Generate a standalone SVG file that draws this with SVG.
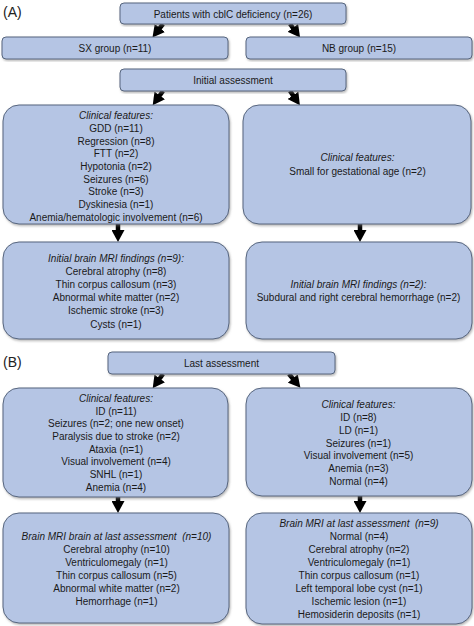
<svg xmlns="http://www.w3.org/2000/svg" width="474" height="626" viewBox="0 0 474 626">
<defs>
<filter id="sh" x="-5%" y="-5%" width="110%" height="115%">
<feDropShadow dx="1" dy="1.5" stdDeviation="0.8" flood-color="#7a7a7a" flood-opacity="0.55"/>
</filter>
<marker id="ah" markerUnits="userSpaceOnUse" markerWidth="12" markerHeight="13" viewBox="0 0 12 13" refX="4" refY="6.5" orient="auto">
<path d="M0,0 L12,6.5 L0,13 z" fill="#000"/>
</marker>
<style>
.b{fill:#b5c5e4;stroke:#56657e;stroke-width:1;filter:url(#sh)}
text{font-family:"Liberation Sans",Arial,sans-serif;font-size:10px;fill:#1a1a1a;text-anchor:middle}
.i{font-style:italic}
.lab{font-size:14px;text-anchor:start;fill:#222}
.c{stroke:#000;stroke-width:4.5;fill:none;marker-end:url(#ah)}
</style>
</defs>
<rect width="474" height="626" fill="#fff"/>
<text class="lab" x="3" y="17">(A)</text>
<text class="lab" x="3" y="367">(B)</text>

<g id="connectors">
<line class="c" x1="163" y1="24" x2="157.4" y2="31.2"/>
<line class="c" x1="290" y1="24" x2="295.3" y2="31.1"/>
<line class="c" x1="163" y1="91" x2="157.4" y2="98.7"/>
<line class="c" x1="290" y1="91" x2="295.3" y2="98.6"/>
<line class="c" x1="118" y1="224" x2="118" y2="234"/>
<line class="c" x1="360" y1="224" x2="360" y2="234"/>
<line class="c" x1="163" y1="374" x2="157.4" y2="381.7"/>
<line class="c" x1="289" y1="374" x2="295.3" y2="381.6"/>
<line class="c" x1="118" y1="497" x2="118" y2="505"/>
<line class="c" x1="360" y1="496" x2="360" y2="505"/>
</g>

<g id="n-patients">
<rect class="b" x="120" y="3" width="226" height="21" rx="4"/>
<text x="233" y="17.5">Patients with cblC deficiency (n=26)</text>
</g>
<g id="n-sx">
<rect class="b" x="2" y="37" width="226" height="22" rx="4"/>
<text x="115" y="51.5">SX group (n=11)</text>
</g>
<g id="n-nb">
<rect class="b" x="246" y="37" width="226" height="22" rx="4"/>
<text x="359" y="51.5">NB group (n=15)</text>
</g>
<g id="n-initial">
<rect class="b" x="120" y="69" width="226" height="22" rx="4"/>
<text x="233" y="83.5">Initial assessment</text>
</g>

<g id="n-a-clin-sx">
<rect class="b" x="3" y="105" width="226" height="119" rx="16"/>
<text class="i" x="116" y="119.2">Clinical features:</text>
<text x="116" y="131.9">GDD (n=11)</text>
<text x="116" y="144.6">Regression (n=8)</text>
<text x="116" y="157.3">FTT (n=2)</text>
<text x="116" y="170">Hypotonia (n=2)</text>
<text x="116" y="182.7">Seizures (n=6)</text>
<text x="116" y="195.4">Stroke (n=3)</text>
<text x="116" y="208.1">Dyskinesia (n=1)</text>
<text x="116" y="220.8">Anemia/hematologic involvement (n=6)</text>
</g>
<g id="n-a-clin-nb">
<rect class="b" x="243" y="105" width="228" height="119" rx="16"/>
<text class="i" x="357.5" y="160.8">Clinical features:</text>
<text x="357.5" y="175.2">Small for gestational age (n=2)</text>
</g>

<g id="n-a-mri-sx">
<rect class="b" x="3" y="242" width="226" height="97" rx="16"/>
<text class="i" x="116" y="262">Initial brain MRI findings (n=9):</text>
<text x="116" y="275.1">Cerebral atrophy (n=8)</text>
<text x="116" y="288.2">Thin corpus callosum (n=3)</text>
<text x="116" y="301.3">Abnormal white matter (n=2)</text>
<text x="116" y="314.4">Ischemic stroke (n=3)</text>
<text x="116" y="327.5">Cysts (n=1)</text>
</g>
<g id="n-a-mri-nb">
<rect class="b" x="246" y="242" width="226" height="97" rx="16"/>
<text class="i" x="358.5" y="287.8">Initial brain MRI findings (n=2):</text>
<text x="358.5" y="301.2">Subdural and right cerebral hemorrhage (n=2)</text>
</g>

<g id="n-last">
<rect class="b" x="108" y="352" width="227" height="22" rx="4"/>
<text x="221.5" y="366.8">Last assessment</text>
</g>

<g id="n-b-clin-sx">
<rect class="b" x="3" y="388" width="225" height="109" rx="16"/>
<text class="i" x="116" y="401.8">Clinical features:</text>
<text x="116" y="414.5">ID (n=11)</text>
<text x="116" y="427.2">Seizures (n=2; one new onset)</text>
<text x="116" y="439.9">Paralysis due to stroke (n=2)</text>
<text x="116" y="452.6">Ataxia (n=1)</text>
<text x="116" y="465.3">Visual involvement (n=4)</text>
<text x="116" y="478">SNHL (n=1)</text>
<text x="116" y="490.7">Anemia (n=4)</text>
</g>
<g id="n-b-clin-nb">
<rect class="b" x="246" y="388" width="226" height="108" rx="16"/>
<text class="i" x="358.5" y="408.2">Clinical features:</text>
<text x="358.5" y="421">ID (n=8)</text>
<text x="358.5" y="433.8">LD (n=1)</text>
<text x="358.5" y="446.6">Seizures (n=1)</text>
<text x="358.5" y="459.4">Visual involvement (n=5)</text>
<text x="358.5" y="472.2">Anemia (n=3)</text>
<text x="358.5" y="485">Normal (n=4)</text>
</g>

<g id="n-b-mri-sx">
<rect class="b" x="3" y="513" width="226" height="110" rx="16"/>
<text class="i" x="116.5" y="540.2" xml:space="preserve">Brain MRI brain at last assessment  (n=10)</text>
<text x="116.5" y="553.2">Cerebral atrophy (n=10)</text>
<text x="116.5" y="566.2">Ventriculomegaly (n=1)</text>
<text x="116.5" y="579.2">Thin corpus callosum (n=5)</text>
<text x="116.5" y="592.2">Abnormal white matter (n=2)</text>
<text x="116.5" y="605.2">Hemorrhage (n=1)</text>
</g>
<g id="n-b-mri-nb">
<rect class="b" x="246" y="513" width="226" height="111" rx="16"/>
<text class="i" x="359" y="526.8" xml:space="preserve">Brain MRI at last assessment  (n=9)</text>
<text x="359" y="539.8">Normal (n=4)</text>
<text x="359" y="552.8">Cerebral atrophy (n=2)</text>
<text x="359" y="565.8">Ventriculomegaly (n=1)</text>
<text x="359" y="578.8">Thin corpus callosum (n=1)</text>
<text x="359" y="591.8">Left temporal lobe cyst (n=1)</text>
<text x="359" y="604.8">Ischemic lesion (n=1)</text>
<text x="359" y="617.8">Hemosiderin deposits (n=1)</text>
</g>
</svg>
